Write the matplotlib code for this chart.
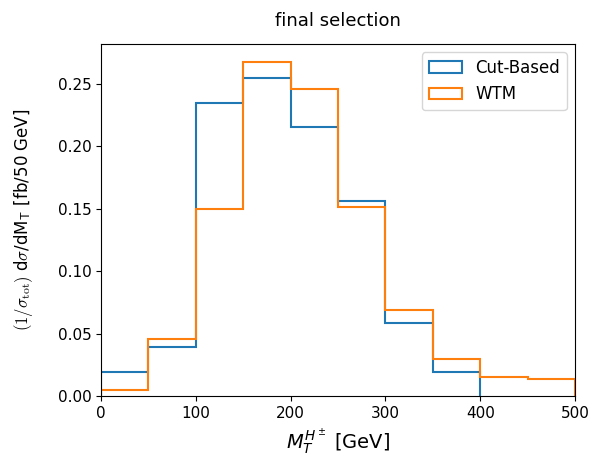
import numpy as np
import matplotlib
matplotlib.use("Agg")
import matplotlib.pyplot as plt

edges = np.arange(0, 550, 50)
cut_based = [0.0192, 0.039, 0.235, 0.2545, 0.2152, 0.1565, 0.0587, 0.0192, 0.0, 0.0]
wtm = [0.005, 0.0456, 0.150, 0.2675, 0.2459, 0.1515, 0.0685, 0.0296, 0.0155, 0.0136]

fig = plt.figure(figsize=(6.03, 4.59), dpi=100)
ax = fig.add_axes([101 / 603, 63 / 459, 474 / 603, 352 / 459])

centers = (edges[:-1] + edges[1:]) / 2
# cut-based has no entries above 400 GeV
n_cb = 8
ax.hist(centers[:n_cb], bins=edges[:n_cb + 1], weights=cut_based[:n_cb],
        histtype="step", color="tab:blue", linewidth=1.5, label="Cut-Based")
ax.hist(centers, bins=edges, weights=wtm,
        histtype="step", color="tab:orange", linewidth=1.5, label="WTM")

ax.set_xlim(0, 500)
ax.set_ylim(0, 0.282)
ax.tick_params(labelsize=11)
ax.set_xlabel(r"$M_T^{H^\pm}$ [GeV]", fontsize=14)
ax.set_ylabel(r"$(1/\sigma_{\rm tot})$ d$\sigma$/dM$_\mathsf{T}$ [fb/50 GeV]",
              fontsize=12, math_fontfamily="cm", labelpad=16)
ax.set_title("final selection", fontsize=13, pad=13)
ax.legend(loc="upper right", fontsize=12)

fig.savefig("out.png", dpi=100)
